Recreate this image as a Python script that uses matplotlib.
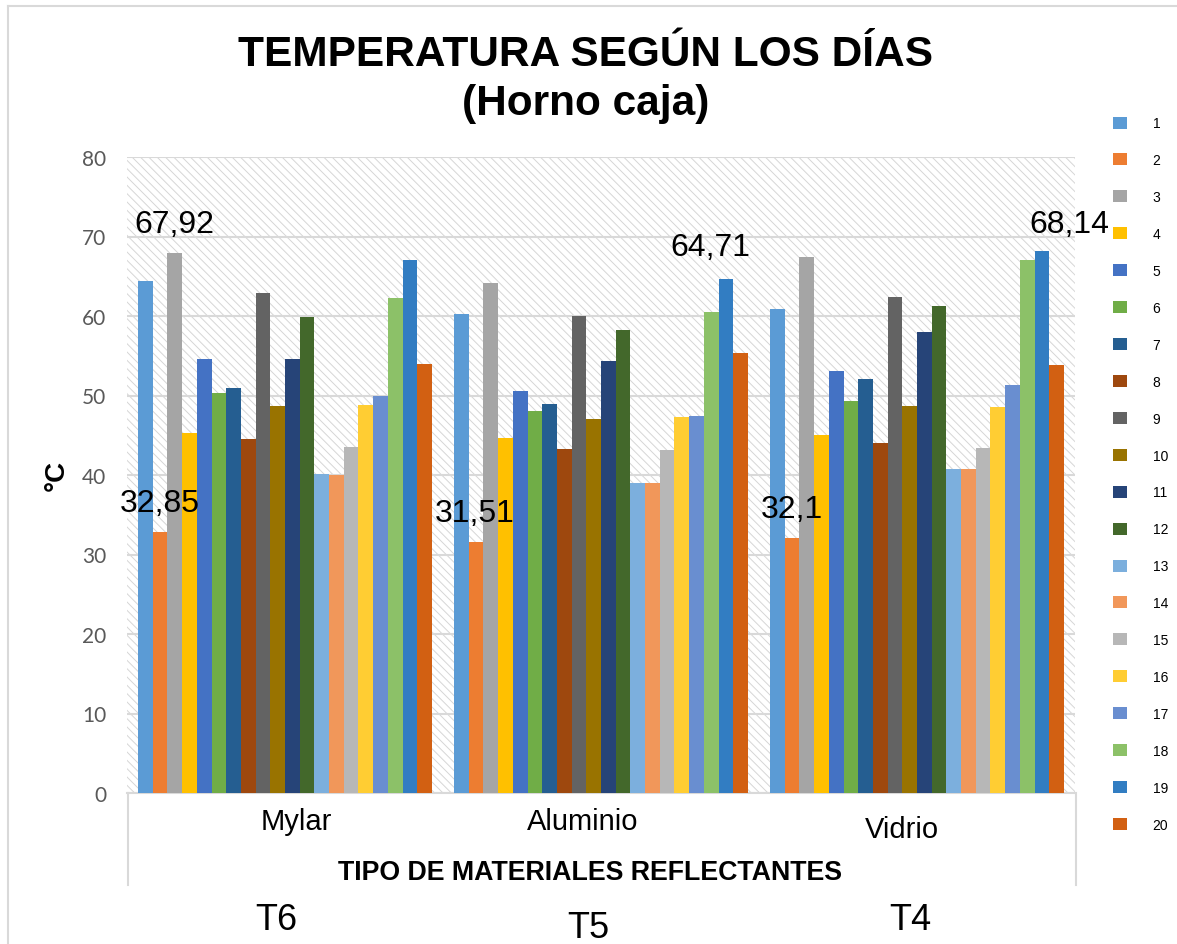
import matplotlib
matplotlib.use("Agg")
import matplotlib.pyplot as plt
from matplotlib.patches import Rectangle
from matplotlib.lines import Line2D
from matplotlib import font_manager

# ---- data -------------------------------------------------------------
materials = ["Mylar", "Aluminio", "Vidrio"]
treatments = ["T6", "T5", "T4"]
days = [str(d) for d in range(1, 21)]

mylar = [64.4, 32.85, 67.92, 45.3, 54.6, 50.3, 51.0, 44.5, 62.9, 48.7,
         54.6, 59.9, 40.1, 40.0, 43.5, 48.8, 49.9, 62.3, 67.1, 54.0]
aluminio = [60.3, 31.51, 64.2, 44.7, 50.6, 48.1, 48.9, 43.3, 60.0, 47.0,
            54.3, 58.3, 39.0, 39.0, 43.1, 47.3, 47.4, 60.5, 64.71, 55.3]
vidrio = [60.9, 32.1, 67.4, 45.0, 53.1, 49.3, 52.1, 44.0, 62.4, 48.7,
          58.0, 61.2, 40.8, 40.8, 43.4, 48.6, 51.3, 67.0, 68.14, 53.8]
series_by_material = [mylar, aluminio, vidrio]

# (material index, day index) pairs whose value is printed
labelled = [(0, 1), (0, 2), (1, 1), (1, 18), (2, 1), (2, 18)]

colors = ["#5B9BD5", "#ED7D31", "#A5A5A5", "#FFC000", "#4472C4", "#70AD47",
          "#255E91", "#9E480E", "#636363", "#997300", "#264478", "#43682B",
          "#7CAFDD", "#F1975A", "#B7B7B7", "#FFCD33", "#698ED0", "#8CC168",
          "#327DC2", "#D26012"]

# ---- fonts ------------------------------------------------------------
available = {f.name for f in font_manager.fontManager.ttflist}
NARROW = "Liberation Sans Narrow" if "Liberation Sans Narrow" in available else "Liberation Sans"
SANS = "Liberation Sans"
TICKF = "Lato" if "Lato" in available else "DejaVu Sans"

W, H = 1177, 945
fig = plt.figure(figsize=(W / 100, H / 100), dpi=100)
fig.patch.set_facecolor("white")


def fx(px):
    return px / W


def fy(py):
    return 1 - py / H


ax = fig.add_axes([fx(127), fy(794), fx(1075) - fx(127), fy(158) - fy(794)])
ax.set_facecolor("white")

# hatched plot area
plt.rcParams["hatch.linewidth"] = 0.7
plt.rcParams["hatch.color"] = "#d6d6d6"
ax.add_patch(Rectangle((0, 0), 1, 1, transform=ax.transAxes, facecolor="white",
                       edgecolor="#d6d6d6", linewidth=0, hatch="\\\\\\\\", zorder=0))

n = len(days)
slot = 1 / (n + 1.5)  # 150 % gap between clusters
bars_by_day = []
for j in range(n):
    xs = [i + (j - (n - 1) / 2) * slot for i in range(len(materials))]
    vals = [series_by_material[i][j] for i in range(len(materials))]
    b = ax.bar(xs, vals, width=slot, color=colors[j], linewidth=0, zorder=3, label=days[j])
    bars_by_day.append(b)

# value labels
offsets = {(0, 1): (0, 21), (0, 2): (0, 21), (1, 1): (-1, 21), (1, 18): (-11, 23),
           (2, 1): (0, 21), (2, 18): (20, 20)}
for (i, j) in labelled:
    v = series_by_material[i][j]
    x = i + (j - (n - 1) / 2) * slot
    ax.annotate(f"{v:g}".replace(".", ","), xy=(x, v), xytext=offsets[(i, j)],
                textcoords="offset points", ha="center", va="center",
                fontsize=23, family=SANS, color="black", zorder=5)

ax.set_xlim(-0.5, len(materials) - 0.5)
ax.set_ylim(0, 80)
ax.set_yticks(range(0, 81, 10))
ax.set_xticks([])
ax.yaxis.grid(True, color="#d9d9d9", linewidth=1.5, zorder=1)
ax.set_axisbelow(True)
for s in ["left", "right", "top"]:
    ax.spines[s].set_visible(False)
ax.spines["bottom"].set_color("#d9d9d9")
ax.spines["bottom"].set_linewidth(1.5)
ax.tick_params(axis="y", length=0, pad=15, labelsize=15, labelcolor="#595959")
for lab in ax.get_yticklabels():
    lab.set_family(TICKF)

# titles
fig.text(fx(586), fy(55), "TEMPERATURA SEGÚN LOS DÍAS", ha="center", va="center",
         fontsize=30.5, fontweight="bold", family=NARROW)
fig.text(fx(586), fy(104), "(Horno caja)", ha="center", va="center",
         fontsize=30.5, fontweight="bold", family=NARROW)
fig.text(fx(57), fy(475), "°C", ha="center", va="center", rotation=90,
         fontsize=20, fontweight="bold", family=SANS)

# category area below the plot
cat_pos = [(296, 822), (583, 822), (902, 830)]
for name, (px, py) in zip(materials, cat_pos):
    fig.text(fx(px), fy(py), name, ha="center", va="center", fontsize=21, family=NARROW)
fig.text(fx(590), fy(873), "TIPO DE MATERIALES REFLECTANTES", ha="center", va="center",
         fontsize=19.3, fontweight="bold", family=NARROW)
t_pos = [(276, 921), (588, 929), (910, 921)]
for name, (px, py) in zip(treatments, t_pos):
    fig.text(fx(px), fy(py), name, ha="center", va="center", fontsize=26, family=NARROW)

for px in (128, 1076):
    fig.add_artist(Line2D([fx(px), fx(px)], [fy(794), fy(886)], color="#d9d9d9", linewidth=1.5))

# chart frame
fig.add_artist(Line2D([fx(8), fx(8)], [fy(7), 0], color="#d9d9d9", linewidth=1.5))
fig.add_artist(Line2D([fx(8), 1], [fy(7), fy(7)], color="#d9d9d9", linewidth=1.5))

# legend
handles = [b[0] for b in bars_by_day]
fig.legend(handles, days, loc="center left", bbox_to_anchor=(fx(1113), fy(475)),
           frameon=False, borderpad=0, borderaxespad=0,
           handlelength=1.0, handleheight=0.95, handletextpad=1.85,
           labelspacing=1.65, prop={"family": NARROW, "size": 10})

fig.savefig("out.png", dpi=100)
